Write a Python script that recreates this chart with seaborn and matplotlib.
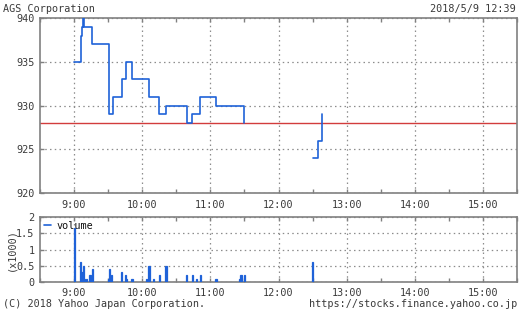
import numpy as np
import pandas as pd
import matplotlib
matplotlib.use("Agg")
import matplotlib.pyplot as plt
from matplotlib.lines import Line2D
from matplotlib.ticker import FixedLocator, MultipleLocator
import seaborn as sns

# ---------------- data ----------------
title_text = "AGS Corporation"
stamp_text = "2018/5/9 12:39"
copyright_text = "(C) 2018 Yahoo Japan Corporation."
url_text = "https://stocks.finance.yahoo.co.jp"

am_minutes = [0, 6, 7, 8, 9, 16, 31, 34, 42, 46, 51, 66, 75, 81, 99, 104, 111, 125, 150]
am_prices = [935, 938, 939, 940, 939, 937, 929, 931, 933, 935, 933, 931, 929, 930, 928, 929, 931, 930, 928]
pm_minutes = [210, 215, 218]
pm_prices = [924, 926, 929]
prev_close = 928

vol_minutes = [0, 6, 7, 8, 9, 11, 14, 16, 30, 31, 33, 42, 45, 46, 51, 64, 66, 70, 75, 81,
               99, 104, 108, 111, 125, 146, 147, 150, 210]
vol_values = [1.65, 0.62, 0.30, 0.48, 0.10, 0.10, 0.22, 0.40, 0.10, 0.40, 0.22, 0.32, 0.22, 0.10,
              0.10, 0.10, 0.50, 0.10, 0.22, 0.50, 0.22, 0.22, 0.10, 0.22, 0.10, 0.10, 0.22,
              0.22, 0.62]

hour_ticks = [9, 10, 11, 12, 13, 14, 15]
hour_labels = ["9:00", "10:00", "11:00", "12:00", "13:00", "14:00", "15:00"]
price_ticks = [920, 925, 930, 935, 940]
vol_ticks = [0, 0.5, 1, 1.5, 2]
vol_tick_labels = ["0", "0.5", "1", "1.5", "2"]

# ---------------- style ----------------
sns.set_theme(style="white")
plt.rcParams["font.family"] = ["DejaVu Sans Mono"]

W, H = 527, 316
fig = plt.figure(figsize=(W / 100, H / 100), dpi=100)
fig.patch.set_facecolor("white")

BLUE = "#1f62d8"
RED = "#d23c3c"
GRID = "#8c8c8c"
SPINE = "#808080"
TXT = "#3a3a3a"
FS = 7.3

ax1 = fig.add_axes([40 / W, 1 - 193 / H, 477 / W, 175 / H])
ax2 = fig.add_axes([40 / W, 1 - 282 / H, 477 / W, 65 / H])

am = pd.DataFrame({"t": [9 + m / 60 for m in am_minutes], "p": am_prices})
pm = pd.DataFrame({"t": [9 + m / 60 for m in pm_minutes], "p": pm_prices})
vol = pd.DataFrame({"t": [9 + m / 60 for m in vol_minutes], "v": vol_values})

# price panel
ax1.axhline(prev_close, color=RED, lw=1.0, zorder=2)
sns.lineplot(data=am, x="t", y="p", ax=ax1, drawstyle="steps-post", color=BLUE,
             lw=1.2, estimator=None, sort=False, zorder=3)
sns.lineplot(data=pm, x="t", y="p", ax=ax1, drawstyle="steps-post", color=BLUE,
             lw=1.2, estimator=None, sort=False, zorder=3)

# volume panel
sns.barplot(data=vol, x="t", y="v", ax=ax2, native_scale=True, color=BLUE,
            width=1.0, errorbar=None, saturation=1, linewidth=0.9, edgecolor=BLUE, zorder=3)

for ax in (ax1, ax2):
    ax.set_xlim(8.5, 15.5)
    ax.xaxis.set_major_locator(FixedLocator(hour_ticks))
    ax.xaxis.set_minor_locator(MultipleLocator(0.5))
    ax.set_xticklabels(hour_labels)
    ax.set_xlabel("")
    ax.set_ylabel("")
    ax.grid(True, which="major", color=GRID, linestyle=(0, (1.2, 2.6)), lw=0.9)
    ax.set_axisbelow(True)
    for s in ax.spines.values():
        s.set_color(SPINE)
        s.set_linewidth(1.2)
        s.set_visible(True)
    ax.tick_params(which="both", direction="in", length=3, color=SPINE, width=1,
                   top=True, bottom=True, left=True, right=False,
                   labelsize=FS, labelcolor=TXT, pad=5)
    ax.tick_params(axis="y", which="minor", left=False)
    ax.tick_params(axis="y", pad=4)

ax1.set_ylim(920, 940)
ax1.set_yticks(price_ticks)
ax1.set_yticklabels([str(v) for v in price_ticks])

ax2.set_ylim(0, 2)
ax2.set_yticks(vol_ticks)
ax2.set_yticklabels(vol_tick_labels)
ax2.set_ylabel("(x1000)", fontsize=FS, color=TXT, labelpad=0)
ax2.yaxis.set_label_coords(-24 / 477, 0.5)
ax2.tick_params(axis="x", pad=4)

handle = Line2D([], [], color=BLUE, lw=1.2)
leg = ax2.legend([handle], ["volume"], loc="upper left", frameon=False,
                 handlelength=0.7, handletextpad=0.6, fontsize=FS,
                 borderaxespad=0.15, borderpad=0.2)
for t in leg.get_texts():
    t.set_color("#111111")

fig.text(3 / W, 1 - 9 / H, title_text, fontsize=FS, color=TXT, va="center", ha="left")
fig.text(516 / W, 1 - 9 / H, stamp_text, fontsize=FS, color=TXT, va="center", ha="right")
fig.text(3 / W, 1 - 304 / H, copyright_text, fontsize=FS, color=TXT, va="center", ha="left")
fig.text(517 / W, 1 - 304 / H, url_text, fontsize=FS, color=TXT, va="center", ha="right")

fig.savefig("out.png", dpi=100, facecolor="white")
